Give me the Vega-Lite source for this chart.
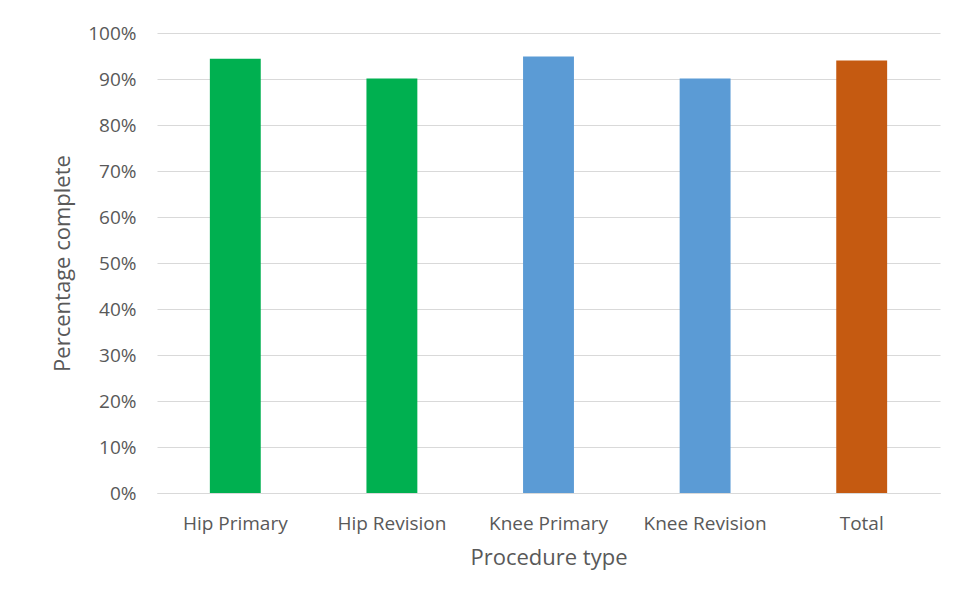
{
  "$schema": "https://vega.github.io/schema/vega-lite/v6.json",
  "width": 783,
  "height": 460,
  "autosize": "none",
  "padding": {"left": 157, "top": 33, "right": 15, "bottom": 120},
  "background": "white",
  "config": {
    "view": {"stroke": null},
    "font": "Open Sans",
    "axis": {"labelColor": "#595959", "titleColor": "#595959", "labelFont": "Open Sans", "titleFont": "Open Sans", "labelFontSize": 19, "titleFontSize": 22, "titleFontWeight": "normal", "gridColor": "#D9D9D9", "domainColor": "#D9D9D9", "ticks": false, "labelOverlap": false}
  },
  "data": {
    "values": [
      {"procedure": "Hip Primary", "pct": 0.944, "group": "Hip"},
      {"procedure": "Hip Revision", "pct": 0.901, "group": "Hip"},
      {"procedure": "Knee Primary", "pct": 0.949, "group": "Knee"},
      {"procedure": "Knee Revision", "pct": 0.901, "group": "Knee"},
      {"procedure": "Total", "pct": 0.940, "group": "Total"}
    ]
  },
  "mark": {"type": "bar"},
  "encoding": {
    "x": {
      "field": "procedure", "type": "nominal", "sort": null,
      "scale": {"paddingInner": 0.675, "paddingOuter": 0.3375},
      "axis": {"title": "Procedure type", "labelAngle": 0, "labelPadding": 21, "titlePadding": 14, "grid": false, "domain": true}
    },
    "y": {
      "field": "pct", "type": "quantitative",
      "scale": {"domain": [0, 1]},
      "axis": {"title": "Percentage complete", "format": ".0%", "values": [0,0.1,0.2,0.3,0.4,0.5,0.6,0.7,0.8,0.9,1], "domain": false, "labelPadding": 21, "titlePadding": 13}
    },
    "color": {
      "field": "group", "type": "nominal",
      "scale": {"domain": ["Hip", "Knee", "Total"], "range": ["#00B050", "#5B9BD5", "#C55A11"]},
      "legend": null
    }
  }
}
